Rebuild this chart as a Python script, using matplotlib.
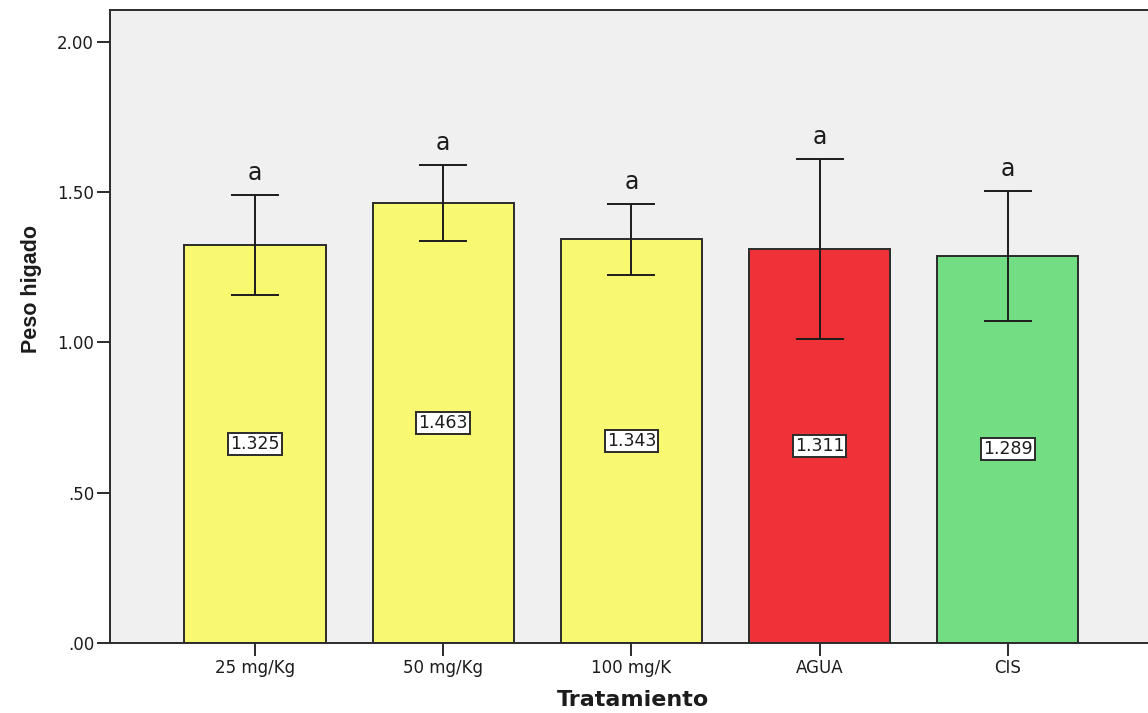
import matplotlib
matplotlib.use("Agg")
import matplotlib.pyplot as plt
import numpy as np

# Liver weight by treatment group
categories = ["25 mg/Kg", "50 mg/Kg", "100 mg/K", "AGUA", "CIS"]
means = [1.325, 1.463, 1.343, 1.311, 1.289]
errors = [0.166, 0.126, 0.118, 0.298, 0.216]
letters = ["a", "a", "a", "a", "a"]
colors = ["#F9F871", "#F9F871", "#F9F871", "#EE3238", "#72DD83"]
yticks = [0.0, 0.5, 1.0, 1.5, 2.0]
ytick_labels = [".00", ".50", "1.00", "1.50", "2.00"]

sans = ["DejaVu Sans"]
title_font = ["Liberation Sans", "DejaVu Sans"]
ink = "#1c1c1c"
edge = "#2b2b2b"

fig = plt.figure(figsize=(11.48, 7.13), dpi=100)
fig.patch.set_facecolor("white")
ax = fig.add_axes([0.0958, 0.0982, 0.9082, 0.888])
ax.set_facecolor("#F0F0F0")

x = np.arange(len(categories))
ax.bar(x, means, width=0.75, color=colors, edgecolor=edge,
       linewidth=1.4, zorder=2)
ax.errorbar(x, means, yerr=errors, fmt="none", ecolor=ink,
            elinewidth=1.4, capsize=17, capthick=1.4, zorder=3)

for xi, m, e, letter in zip(x, means, errors, letters):
    ax.text(xi, m / 2, f"{m:.3f}", ha="center", va="center", fontsize=12.5,
            family=sans, color=ink, zorder=4,
            bbox=dict(boxstyle="square,pad=0.12", facecolor="white",
                      edgecolor=edge, linewidth=1.4))
    ax.annotate(letter, (xi, m + e), xytext=(0, 16), textcoords="offset points",
                ha="center", va="center", fontsize=17, family=sans,
                color=ink, zorder=4)

ax.set_xlim(-0.771, 4.77)
ax.set_ylim(0, 2.107)
ax.set_xticks(x)
ax.set_xticklabels(categories, family=sans, fontsize=12, color=ink)
ax.set_yticks(yticks)
ax.set_yticklabels(ytick_labels, family=sans, fontsize=12, color=ink)
ax.tick_params(axis="both", direction="out", length=9.5, width=1.4,
               color=edge, pad=2)

for side in ["left", "bottom", "top", "right"]:
    ax.spines[side].set_color(edge)
    ax.spines[side].set_linewidth(1.4)

ax.set_ylabel("Peso higado", family=title_font, fontsize=15.5,
              fontweight="bold", color=ink, va="center", ha="center")
ax.yaxis.set_label_coords(-0.075, 0.559)
ax.set_xlabel("Tratamiento", family=sans, fontsize=16, fontweight="bold",
              color=ink, va="center", ha="center")
ax.xaxis.set_label_coords(0.5016, -0.090)

fig.savefig("out.png", dpi=100, facecolor="white")
